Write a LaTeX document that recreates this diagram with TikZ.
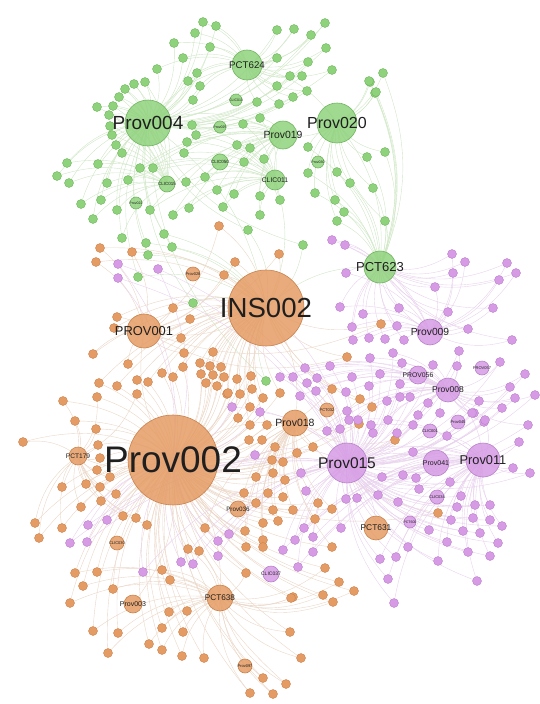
\documentclass[tikz,border=0pt]{standalone}
\usepackage{fontspec}
\setmainfont{Liberation Sans}
\usetikzlibrary{positioning}

\definecolor{grn}{HTML}{8FD27C}
\definecolor{grnline}{HTML}{6FB55E}
\definecolor{grnedge}{HTML}{D0E7C6}
\definecolor{org}{HTML}{E59C64}
\definecolor{orgline}{HTML}{C9824C}
\definecolor{orgedge}{HTML}{EBD6C6}
\definecolor{prp}{HTML}{D69BE4}
\definecolor{prpline}{HTML}{B881CB}
\definecolor{prpedge}{HTML}{E8D1ED}

\pgfdeclarelayer{edges}
\pgfsetlayers{edges,main}

\tikzset{
  hub/.style={circle, draw=#1line, fill=#1, fill opacity=0.85, line width=0.6pt, inner sep=0pt},
  leaf/.style={circle, draw=#1line, fill=#1, line width=0.4pt, inner sep=0pt, minimum size=9pt},
  link/.style={draw=#1edge, line width=0.4pt},
  hublabel/.style={text=black!88, inner sep=0pt},
}

% big nodes: name/x/y/size/font size/colour/text
\newcommand\hubnodes{
  p004/148/123/46/19/grn/Prov004, pct624/247/65/30/9.7/grn/PCT624,
  p019/283/135/28/10.4/grn/Prov019, p020/337/123/40/16/grn/Prov020,
  clic011/275/180/20/6.8/grn/CLIC011, pct623/380/267/32/13/grn/PCT623,
  clic050/220/162/16/4.5/grn/CLIC050, clic015/167/184/16/4.5/grn/CLIC015,
  clic013/236/100/12/3.5/grn/CLIC013, prov022/136/203/12/3.5/grn/Prov022,
  prov025/220/127/12/3.5/grn/Prov025, prov030/318/162/12/3.5/grn/Prov030,
  ins002/266/308/76/27.6/org/INS002, p002/173/460/90/37/org/Prov002,
  prov001/144/331/34/12.9/org/PROV001, p018/295/423/26/10.5/org/Prov018,
  pct179/78/456/18/6.6/org/PCT179, prov036/238/509/16/6.3/org/Prov036,
  clic030/117/543/14/4/org/CLIC030, prov003/133/604/18/7/org/Prov003,
  pct638/220/598/26/8.2/org/PCT638, pct631/376/528/24/8.4/org/PCT631,
  pct032/327/410/14/4/org/PCT032, prov028/193/274/14/4/org/Prov028,
  prov097/245/666/14/4/org/Prov097,
  p009/430/332/26/10.3/prp/Prov009, prov056/418/375/18/6.8/prp/PROV056,
  p008/448/390/24/8.5/prp/Prov008, p015/347/463/40/15.5/prp/Prov015,
  p041/436/463/26/7/prp/Prov041, p011/483/460/34/12.8/prp/Prov011,
  clic037/271/574/16/5/prp/CLIC037, clic001/430/431/14/4/prp/CLIC001,
  pct600/410/522/12/3.5/prp/PCT600, prov045/458/422/14/4/prp/Prov045,
  prov057/482/368/14/4/prp/PROV057, clic034/437/497/14/4/prp/CLIC034}

% small nodes, one list per group
\newcommand\greentop{203/22, 216/26, 195/33, 174/43, 210/47, 183/58,
  157/69, 197/73, 188/81, 200/86, 277/30, 294/29, 311/35, 325/23, 277/58,
  308/62, 326/48, 290/76, 302/76, 277/86, 332/70, 193/100, 257/102, 279/104,
  293/97, 307/91}
\newcommand\greenleft{145/82, 134/84, 125/89, 119/97, 97/107, 113/106,
  109/115, 110/126, 112/135, 116/145, 122/153, 98/164, 67/163, 57/176, 69/183,
  107/183, 81/204, 101/200, 117/210, 93/219, 122/238}
\newcommand\greenmid{140/168, 153/168, 128/180, 150/210, 173/215,
  189/208, 186/182, 205/177, 217/190, 234/194, 223/207, 260/196, 260/215,
  280/200, 192/125, 196/135, 187/142, 184/153, 243/124, 237/145, 250/148,
  260/118, 244/162, 264/159}
\newcommand\greenright{308/147, 337/172, 350/183, 373/188, 367/157,
  335/200, 344/212, 315/193, 308/173, 370/82, 375/93, 337/221, 383/73,
  369/81, 376/92, 385/152, 385/221}
\newcommand\greenlow{146/243, 148/255, 164/234, 172/247, 138/277,
  193/303, 248/230, 303/245, 266/381}
\newcommand\orangetop{100/248, 96/262, 132/252, 224/275, 235/262,
  219/226, 173/308, 190/319, 117/317, 114/328, 181/338, 93/354, 128/364,
  184/353, 279/254, 381/324, 347/357}
\newcommand\orangemid{213/352, 200/363, 210/366, 221/367, 162/373,
  173/377, 137/380, 148/382, 183/367, 201/374, 213/375, 224/377, 206/383,
  217/386, 237/379, 251/376, 99/383, 117/386, 240/394, 227/394, 252/389,
  280/393, 263/398, 332/389, 360/399, 372/407, 250/407, 238/418, 250/425,
  267/425, 228/393}
\newcommand\orangeleft{137/394, 63/401, 97/397, 75/421, 96/429, 23/442,
  98/445, 100/458, 97/470, 110/477, 86/484, 62/487, 100/487, 116/494,
  101/501, 81/507, 35/523, 62/528, 39/538, 123/516, 136/518, 147/525}
\newcommand\orangeright{249/440, 262/440, 275/447, 272/460, 283/462,
  256/477, 273/473, 285/480, 244/493, 268/493, 283/497, 256/503, 273/510,
  293/510, 263/523, 278/521, 245/531, 263/540, 297/453, 313/447, 318/503,
  332/509, 315/519, 332/547, 263/547, 359/424, 395/440, 438/513, 205/528,
  246/547}
\newcommand\orangelow{75/573, 97/572, 83/586, 113/589, 70/603,
  162/570, 170/580, 188/549, 199/551, 246/573, 169/612, 187/611, 93/631,
  118/633, 162/628, 183/632, 149/644, 162/650, 108/653, 182/656, 204/658,
  263/678, 286/684, 250/693, 273/694, 290/632, 293/597, 325/568, 339/582,
  354/591, 323/595, 333/602, 291/598, 301/658}
\newcommand\purplestray{118/264, 118/278, 158/269, 88/525, 107/520,
  87/542, 70/543, 143/572, 181/562, 193/564, 218/541, 229/534, 218/556,
  232/407, 260/412, 255/455}
\newcommand\purpletop{345/245, 332/240, 346/273, 340/307, 363/314,
  399/308, 397/326, 352/327, 353/340, 369/338, 385/339, 404/340, 435/287,
  452/254, 465/262, 453/273, 448/312, 468/329, 493/308, 507/263, 516/273,
  499/280, 512/340}
\newcommand\purplemid{459/351, 500/362, 525/374, 535/395, 510/387,
  515/398, 502/408, 528/425, 479/401, 484/422, 474/413, 457/366, 433/365,
  402/363, 393/353, 370/358, 380/374, 369/386, 352/377, 346/392, 330/366,
  317/378, 305/368, 307/383, 293/377, 280/377, 300/396, 316/391, 347/411,
  358/420, 387/401, 388/420, 400/384, 400/397, 410/397, 428/403, 418/415,
  440/413, 472/413, 413/425, 340/429, 327/431, 373/433, 397/433}
\newcommand\purplelow{371/425, 413/452, 447/436, 485/420, 519/442,
  513/468, 530/473, 450/482, 301/473, 306/491, 346/499, 357/498, 378/495,
  382/477, 403/475, 416/478, 419/489, 398/502, 461/496, 475/505, 490/505,
  457/507, 451/520, 473/518, 490/520, 502/526, 429/530, 463/531, 480/533,
  498/543, 447/542, 468/552, 490/556, 438/561, 408/547, 396/557, 380/559,
  388/579, 394/603, 477/581, 304/528, 341/528, 295/540, 283/550, 313/537,
  313/552, 298/567, 349/420}

\begin{document}
\begin{tikzpicture}[x=1pt, y=-1pt]
\useasboundingbox (0,0) rectangle (539,704);

% big nodes
\foreach \id/\x/\y/\d/\fs/\c/\t in \hubnodes
  \node[hub=\c, minimum size=\d pt] (\id) at (\x,\y) {};

% small nodes
\foreach \lst/\pre/\c in {\greentop/ga/grn, \greenleft/gb/grn, \greenmid/gc/grn,
    \greenright/gd/grn, \greenlow/ge/grn, \orangetop/oa/org, \orangemid/ob/org,
    \orangeleft/oc/org, \orangeright/od/org, \orangelow/oe/org,
    \purplestray/pa/prp, \purpletop/pb/prp, \purplemid/pc/prp, \purplelow/pd/prp}
{
  \edef\cur{\lst}
  \foreach \x/\y [count=\i] in \cur
    \node[leaf=\c] (\pre\i) at (\x,\y) {};
}

\begin{pgfonlayer}{edges}
  % links between big nodes
  \foreach \a/\b/\c in {ins002/p002/org, ins002/prov001/org, ins002/pct623/grn,
    ins002/p015/prp, ins002/p018/org, p002/prov001/org, p002/p018/org,
    p002/pct638/org, p002/pct179/org, p002/prov003/org, p002/prov036/org,
    p015/p011/prp, p015/p041/prp, p015/pct631/prp, p009/pct623/prp,
    p008/p011/prp, p004/p019/grn, p004/pct624/grn, p020/p019/grn,
    p020/pct623/grn, clic011/ins002/grn, p004/ins002/grn, pct624/p020/grn}
    \draw[link=\c] (\a.center) to[bend left=22] (\b.center);
  % links from small nodes to their two big nodes
  \foreach \lst/\pre/\c/\a/\b in {\greentop/ga/grn/pct624/p004,
      \greenleft/gb/grn/p004/clic015, \greenmid/gc/grn/p019/clic011,
      \greenright/gd/grn/p020/pct623, \greenlow/ge/grn/ins002/p004,
      \orangetop/oa/org/ins002/prov001, \orangemid/ob/org/ins002/p002,
      \orangeleft/oc/org/p002/pct179, \orangeright/od/org/p002/p018,
      \orangelow/oe/org/pct638/p002, \purplestray/pa/prp/p015/p002,
      \purpletop/pb/prp/p009/pct623, \purplemid/pc/prp/p008/p015,
      \purplelow/pd/prp/p011/p015}
  {
    \edef\cur{\lst}
    \foreach \x/\y [count=\i] in \cur {
      \draw[link=\c] (\pre\i.center) to[bend left=22] (\a.center);
      \draw[link=\c] (\pre\i.center) to[bend left=22] (\b.center);
    }
  }
\end{pgfonlayer}

% labels on top
\foreach \id/\x/\y/\d/\fs/\c/\t in \hubnodes
  \node[hublabel, font=\fontsize{\fs}{\fs}\selectfont] (\id-t) at (\id) {\t};
\end{tikzpicture}
\end{document}
